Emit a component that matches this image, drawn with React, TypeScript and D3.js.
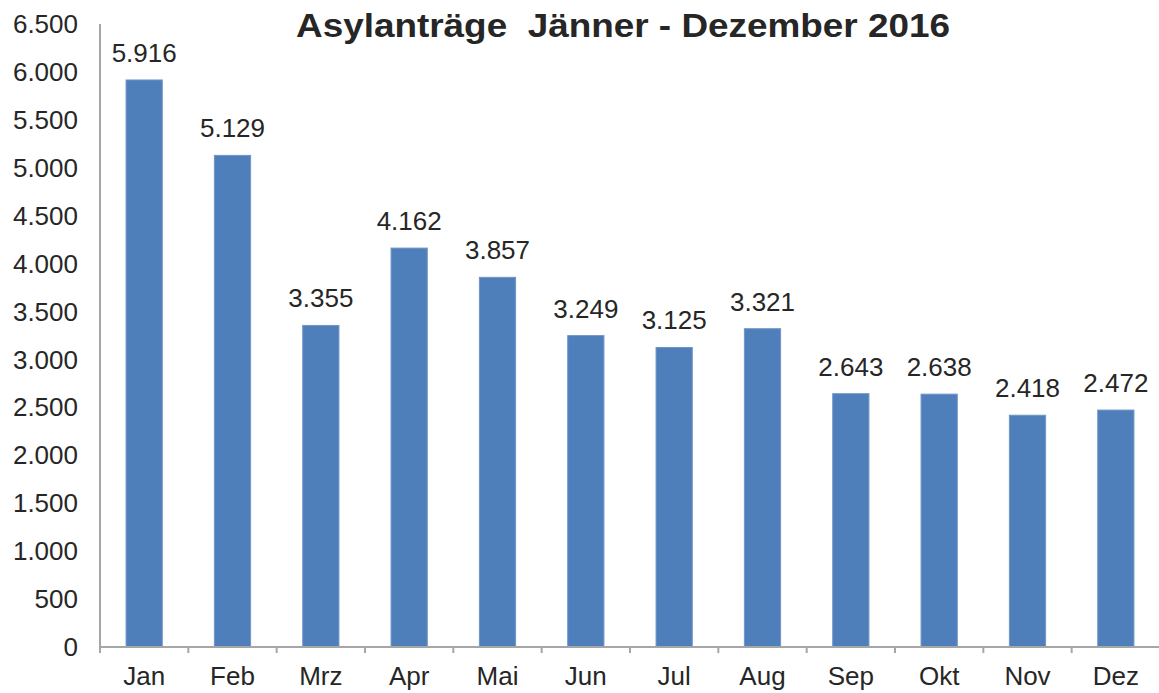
import React from "react";
import * as d3 from "d3";

const months = ["Jan", "Feb", "Mrz", "Apr", "Mai", "Jun", "Jul", "Aug", "Sep", "Okt", "Nov", "Dez"];
const values = [5916, 5129, 3355, 4162, 3857, 3249, 3125, 3321, 2643, 2638, 2418, 2472];
const yTicks = [0, 500, 1000, 1500, 2000, 2500, 3000, 3500, 4000, 4500, 5000, 5500, 6000, 6500];
const title = "Asylanträge  Jänner - Dezember 2016";

const W = 1159;
const H = 693;
const left = 100;
const right = 1160;
const top = 24;
const bottom = 647;

const fmt = (v: number) => d3.format(",")(v).replace(/,/g, ".");

export default function App() {
  const x = d3
    .scaleBand<string>()
    .domain(months)
    .range([left, right])
    .paddingInner(0.59)
    .paddingOuter(0.295);
  const y = d3.scaleLinear().domain([0, 6500]).range([bottom, top]);
  const step = x.step();
  const font = "'Liberation Sans', Arial, sans-serif";
  const textColor = "#262626";
  const axisColor = "#a6a6a6";

  return (
    <div style={{ position: "absolute", left: 0, top: 0 }}>
      <svg width={W} height={H} style={{ display: "block", background: "#fff" }}>
        <text
          x={623}
          y={37}
          textAnchor="middle"
          fontFamily={font}
          fontWeight="bold"
          fontSize={34}
          fill={textColor}
          textLength={654}
          lengthAdjust="spacingAndGlyphs"
          style={{ whiteSpace: "pre" }}
        >
          {title}
        </text>
        {yTicks.map((t) => (
          <text
            key={t}
            x={78}
            y={y(t)}
            dy="0.35em"
            textAnchor="end"
            fontFamily={font}
            fontSize={26}
            fill={textColor}
          >
            {fmt(t)}
          </text>
        ))}
        {months.map((m, i) => (
          <g key={m}>
            <rect
              x={x(m)!}
              y={y(values[i])}
              width={x.bandwidth()}
              height={bottom - y(values[i])}
              fill="#4f7fba"
              stroke="#6f95c8"
              strokeWidth={1}
            />
            <text
              x={x(m)! + x.bandwidth() / 2}
              y={y(values[i]) - 18}
              textAnchor="middle"
              fontFamily={font}
              fontSize={26}
              fill={textColor}
            >
              {fmt(values[i])}
            </text>
            <text
              x={x(m)! + x.bandwidth() / 2}
              y={685}
              textAnchor="middle"
              fontFamily={font}
              fontSize={26}
              fill={textColor}
            >
              {m}
            </text>
          </g>
        ))}
        <line x1={left} x2={left} y1={top} y2={bottom} stroke={axisColor} strokeWidth={2} />
        <line x1={left} x2={right} y1={bottom} y2={bottom} stroke={axisColor} strokeWidth={2} />
        {d3.range(months.length + 1).map((i) => (
          <line
            key={i}
            x1={left + i * step}
            x2={left + i * step}
            y1={bottom}
            y2={bottom + 6}
            stroke={axisColor}
            strokeWidth={2}
          />
        ))}
      </svg>
    </div>
  );
}
